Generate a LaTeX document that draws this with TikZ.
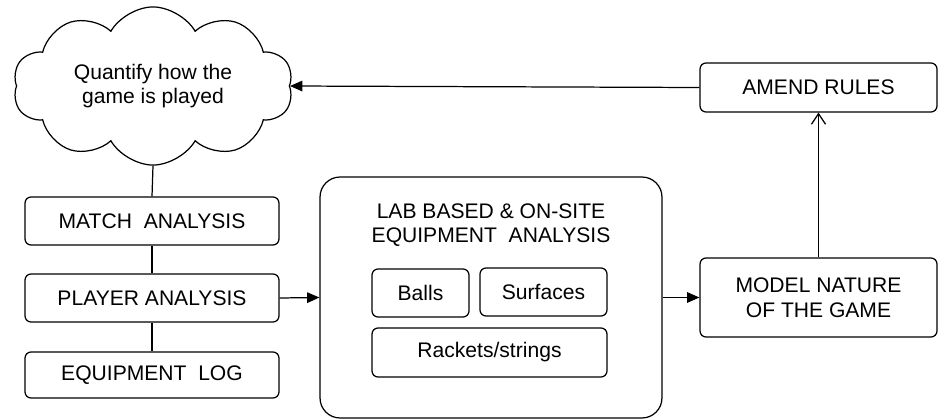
\documentclass[tikz,border=0pt]{standalone}
\usepackage{fontspec}
\setmainfont{Liberation Sans}
\usetikzlibrary{shapes.symbols,arrows.meta}
\tikzset{
  box/.style={draw,rounded corners=0.12cm,line width=0.7pt,align=center,inner sep=0pt},
  link/.style={line width=0.7pt},
  fillarrow/.style={link,-{Triangle[length=7pt,width=6pt]}},
  openarrow/.style={link,-{Straight Barb[length=6pt,width=8pt]}}
}
\begin{document}
\begin{tikzpicture}[x=0.02cm,y=-0.02cm,font=\fontsize{12}{14}\selectfont]
        \useasboundingbox (0,0) rectangle (938,419);
        %% left column
        \node[cloud,draw,line width=0.7pt,cloud puffs=10,cloud puff arc=120,aspect=1.8,
              minimum width=5.6cm,minimum height=3.1cm,align=center,inner sep=0pt]
              (quant) at (153,86) {Quantify how the\\game is played};
        \node[box,minimum width=5.08cm,minimum height=0.96cm] (match) at (152,221) {MATCH~ ANALYSIS};
        \node[box,minimum width=5.08cm,minimum height=0.96cm] (player) at (152,298) {PLAYER ANALYSIS};
        \node[box,minimum width=5.08cm,minimum height=0.92cm] (equip) at (152,375) {EQUIPMENT~ LOG};
        \draw[link] (quant.south) -- (match.north);
        \draw[link] (match) -- (player);
        \draw[link] (player) -- (equip);
        %% lab box
        \node[box,rounded corners=0.4cm,minimum width=6.84cm,minimum height=4.82cm] (lab) at (491,297.5) {};
        \node[align=center] (labtitle) at (491,225) {LAB BASED \& ON-SITE\\EQUIPMENT~ ANALYSIS};
        \node[box,minimum width=1.94cm,minimum height=0.96cm] (balls) at (420.5,293) {Balls};
        \node[box,minimum width=2.54cm,minimum height=0.96cm] (surf) at (543.5,292) {Surfaces};
        \node[box,minimum width=4.7cm,minimum height=0.98cm] (rack) at (489.5,352.5) {Rackets/strings};
        %% right column
        \node[box,minimum width=4.74cm,minimum height=0.98cm] (amend) at (818.5,87.5) {AMEND RULES};
        \node[box,minimum width=4.74cm,minimum height=1.58cm] (model) at (818.5,297.5) {MODEL NATURE\\OF THE GAME};
        \draw[fillarrow] (player.east) -- (lab.west);
        \draw[fillarrow] (lab.east) -- (model.west);
        \draw[openarrow] (model.north) -- (amend.south);
        \draw[fillarrow] (amend.west) -- (quant.east);
    \end{tikzpicture}
\end{document}
